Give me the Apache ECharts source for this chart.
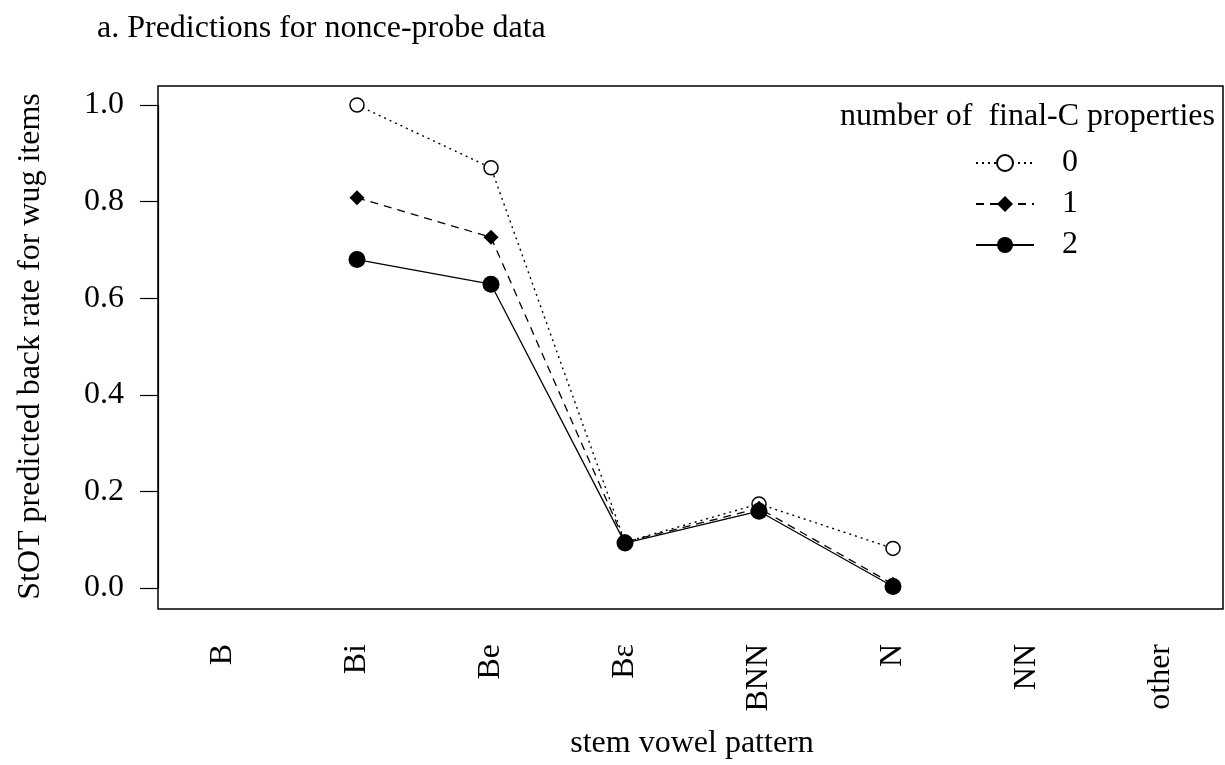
<!DOCTYPE html>
<html>
<head>
<meta charset="utf-8">
<script src="https://cdn.jsdelivr.net/npm/echarts@6/dist/echarts.min.js"></script>
<style>
html,body{margin:0;padding:0;background:#fff;}
#chart{width:1225px;height:765px;}
</style>
</head>
<body>
<div id="chart"></div>
<script>
const categories = ['B', 'Bi', 'Be', 'B\u025B', 'BNN', 'N', 'NN', 'other'];
const seriesNames = ['0', '1', '2'];
const values0 = [null, 1.0, 0.87, 0.095, 0.174, 0.082, null, null];
const values1 = [null, 0.808, 0.726, 0.095, 0.165, 0.008, null, null];
const values2 = [null, 0.680, 0.629, 0.093, 0.159, 0.003, null, null];
const yTicks = [0, 0.2, 0.4, 0.6, 0.8, 1.0];

const FONT = "'Liberation Serif', 'Times New Roman', serif";
const chart = echarts.init(document.getElementById('chart'), null, {renderer: 'canvas'});

chart.setOption({
  backgroundColor: '#fff',
  animation: false,
  textStyle: {fontFamily: FONT, color: '#000'},
  title: [
    {text: 'a. Predictions for nonce-probe data', left: 97, top: 13, padding: 0,
     textStyle: {fontFamily: FONT, fontSize: 32, fontWeight: 'normal', color: '#000'}},
    {text: 'number of  final-C properties', left: 840, top: 101, padding: 0,
     textStyle: {fontFamily: FONT, fontSize: 32, fontWeight: 'normal', color: '#000'}}
  ],
  legend: {
    data: seriesNames,
    orient: 'vertical',
    left: 975, top: 147,
    padding: 0,
    itemWidth: 58, itemHeight: 20, itemGap: 9,
    textStyle: {fontFamily: FONT, fontSize: 32, color: '#000', lineHeight: 20, padding: [0, 0, 0, 23]},
    inactiveColor: '#000'
  },
  grid: [
    {left: 223, right: 64, top: 105, bottom: 175, show: false, containLabel: false},
    {left: 158, right: 2, top: 86, bottom: 156, show: true, borderColor: '#000', borderWidth: 1.5, backgroundColor: 'transparent', z: 0}
  ],
  xAxis: [
    {type: 'category', gridIndex: 0, data: categories, boundaryGap: false,
     axisLine: {show: false}, axisTick: {show: false}, splitLine: {show: false},
     axisLabel: {rotate: 90, margin: 56, fontFamily: FONT, fontSize: 32, color: '#000', interval: 0},
     name: 'stem vowel pattern', nameLocation: 'middle', nameGap: 140,
     nameTextStyle: {fontFamily: FONT, fontSize: 32, color: '#000'}},
    {type: 'value', gridIndex: 1, show: false, min: 0, max: 1}
  ],
  yAxis: [
    {type: 'value', gridIndex: 0, min: 0, max: 1, interval: 0.2, offset: 65,
     axisLine: {show: true, lineStyle: {color: '#000', width: 1.2}},
     axisTick: {show: true, length: 18, inside: false, lineStyle: {color: '#000', width: 1.2}},
     splitLine: {show: false},
     axisLabel: {margin: 34, fontFamily: FONT, fontSize: 32, color: '#000',
                 formatter: v => v.toFixed(1)},
     name: 'StOT predicted back rate for wug items', nameLocation: 'middle', nameGap: 111,
     nameTextStyle: {fontFamily: FONT, fontSize: 32, color: '#000'}},
    {type: 'value', gridIndex: 1, show: false, min: 0, max: 1}
  ],
  series: [
    {name: seriesNames[0], type: 'line', data: values0, connectNulls: false,
     symbol: 'circle', symbolSize: 14, showAllSymbol: true,
     itemStyle: {color: '#fff', borderColor: '#000', borderWidth: 1.5},
     lineStyle: {color: '#000', width: 1.4, type: [2, 4]}},
    {name: seriesNames[1], type: 'line', data: values1,
     symbol: 'diamond', symbolSize: 15,
     itemStyle: {color: '#000'},
     lineStyle: {color: '#000', width: 1.3, type: [8, 6]}},
    {name: seriesNames[2], type: 'line', data: values2,
     symbol: 'circle', symbolSize: 17,
     itemStyle: {color: '#000'},
     lineStyle: {color: '#000', width: 1.3, type: 'solid'}}
  ]
});
</script>
</body>
</html>
